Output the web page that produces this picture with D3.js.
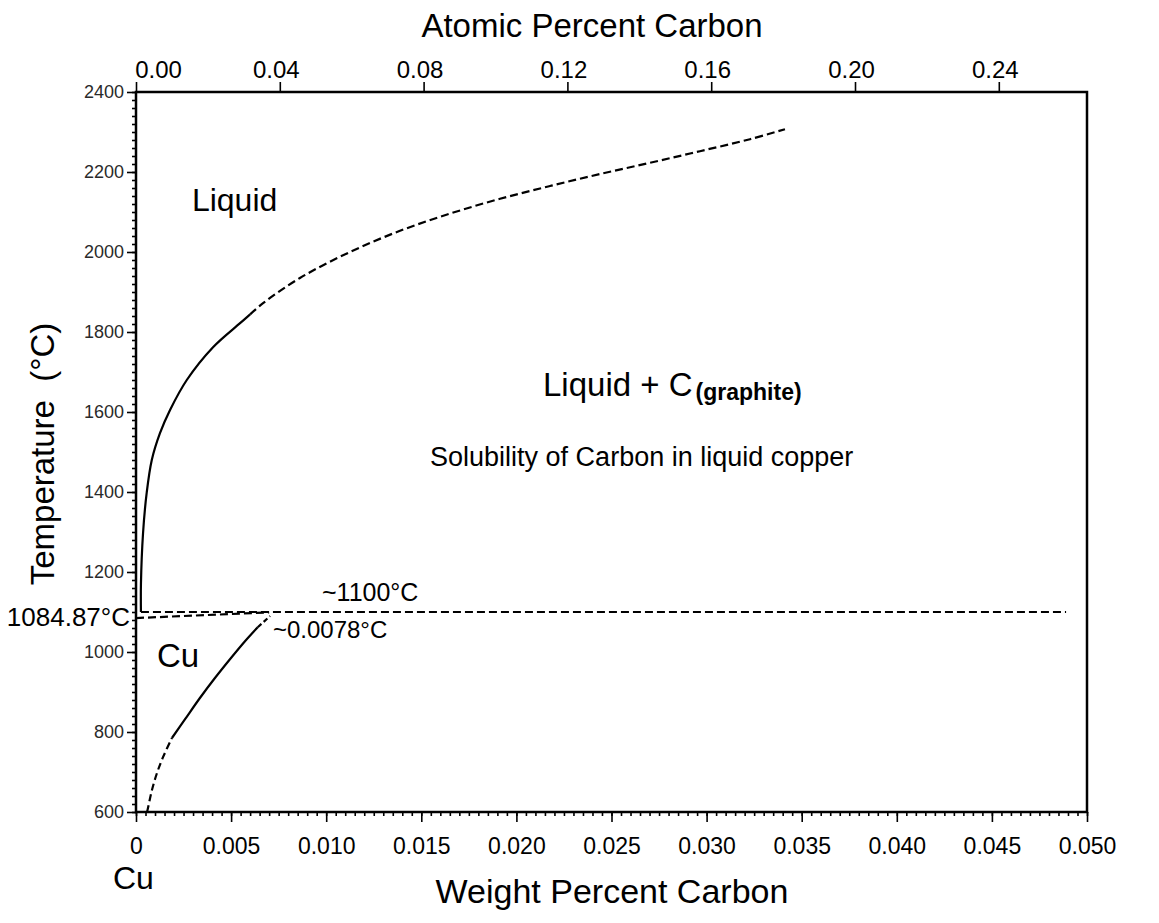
<!DOCTYPE html>
<html>
<head>
<meta charset="utf-8">
<script src="https://cdn.jsdelivr.net/npm/d3@7"></script>
<style>
  html, body { margin: 0; padding: 0; background: #fff; }
  svg { display: block; font-family: "Liberation Sans", Arial, sans-serif; }
</style>
</head>
<body>
<svg id="chart" width="1159" height="923"></svg>
<script>
// Cu–C phase diagram, copper-rich corner (weight % and atomic % carbon)

// Liquidus: solubility of carbon in liquid copper, [wt% C, °C]
const liquidusSolid = [
  [0.00026, 1100], [0.00026, 1170], [0.00037, 1297], [0.00056, 1397],
  [0.00083, 1480], [0.00126, 1547], [0.00179, 1605], [0.00267, 1680],
  [0.00405, 1762], [0.00547, 1822], [0.0060, 1844]
];
const liquidusDashed = [
  [0.0060, 1844], [0.00668, 1872], [0.00862, 1935], [0.01125, 2000],
  [0.01388, 2053], [0.01651, 2096], [0.01914, 2133], [0.02177, 2165],
  [0.0244, 2195], [0.02702, 2223], [0.02965, 2252], [0.03228, 2282],
  [0.03412, 2307]
];
// Solubility of carbon in solid Cu
const solvusLow = [
  [0.00058, 600], [0.00063, 610], [0.00084, 655], [0.0011, 697],
  [0.00142, 737], [0.00189, 785]
];
const solvusSolid = [
  [0.00189, 785], [0.00258, 832], [0.00336, 885], [0.00415, 935],
  [0.00494, 982], [0.00573, 1027], [0.0064, 1062]
];
const solvusHigh = [[0.0064, 1062], [0.00705, 1090]];
// Eutectic (~1100 °C) and the line from the melting point of Cu
const eutecticLine = [[0.00026, 1100], [0.0489, 1100]];
const meltingLine = [[0, 1084.87], [0.0070, 1099]];

// Axis ticks
const tempTicks = [600, 800, 1000, 1200, 1400, 1600, 1800, 2000, 2200, 2400];
const wtTicks = [0, 0.005, 0.010, 0.015, 0.020, 0.025, 0.030, 0.035, 0.040, 0.045, 0.050];
const wtTickLabels = ["0", "0.005", "0.010", "0.015", "0.020", "0.025", "0.030", "0.035", "0.040", "0.045", "0.050"];
const atTicks = [0, 0.04, 0.08, 0.12, 0.16, 0.20, 0.24];
const atTickLabels = ["0.00", "0.04", "0.08", "0.12", "0.16", "0.20", "0.24"];

// wt% -> at% conversion for the Cu–C system (M_Cu / M_C)
const atPerWt = 63.546 / 12.011;

const svg = d3.select("#chart");
const plotL = 136, plotR = 1087, plotT = 92, plotB = 812;

const x = d3.scaleLinear().domain([0, 0.05]).range([plotL, plotR]);
const xTop = d3.scaleLinear().domain([0, 0.05 * atPerWt]).range([plotL, plotR]);
const y = d3.scaleLinear().domain([600, 2400]).range([plotB, plotT]);

const line = d3.line().x(d => x(d[0])).y(d => y(d[1])).curve(d3.curveCatmullRom.alpha(0.5));
const FONT = "'Liberation Sans', Arial, sans-serif";

// Minor ticks
const g = svg.append("g");
g.append("g")
  .attr("transform", `translate(${plotL},0)`)
  .call(d3.axisLeft(y).tickValues(d3.range(600, 2401, 20)).tickSize(4).tickFormat(""))
  .call(a => a.select(".domain").remove());
g.append("g")
  .attr("transform", `translate(0,${plotB})`)
  .call(d3.axisBottom(x).tickValues(d3.range(0, 101).map(i => i * 0.0005)).tickSize(4).tickFormat(""))
  .call(a => a.select(".domain").remove());

// Major ticks
const yAxis = g.append("g")
  .attr("transform", `translate(${plotL},0)`)
  .call(d3.axisLeft(y).tickValues(tempTicks).tickSize(9).tickPadding(3).tickFormat(d3.format("d")))
  .call(a => a.select(".domain").remove());
yAxis.selectAll("text").attr("font-size", 18).attr("fill", "#2a2a2a").attr("font-family", FONT);

const xAxis = g.append("g")
  .attr("transform", `translate(0,${plotB})`)
  .call(d3.axisBottom(x).tickValues(wtTicks).tickSize(10).tickPadding(16)
    .tickFormat((d, i) => wtTickLabels[i]))
  .call(a => a.select(".domain").remove());
xAxis.selectAll("text").attr("font-size", 23).attr("fill", "#000").attr("font-family", FONT);

const topAxis = g.append("g")
  .attr("transform", `translate(0,${plotT})`)
  .call(d3.axisTop(xTop).tickValues(atTicks).tickSize(10).tickPadding(4)
    .tickFormat((d, i) => atTickLabels[i]))
  .call(a => a.select(".domain").remove());
topAxis.selectAll("text").attr("font-size", 24).attr("fill", "#000").attr("font-family", FONT)
  .attr("dx", (d, i) => i === 0 ? 22 : -4);

g.selectAll(".tick line").attr("stroke", "#000").attr("stroke-width", 1.6);

// Frame
svg.append("rect")
  .attr("x", plotL).attr("y", plotT)
  .attr("width", plotR - plotL).attr("height", plotB - plotT)
  .attr("fill", "none").attr("stroke", "#000").attr("stroke-width", 2.5);

// Phase boundaries
const curves = svg.append("g").attr("fill", "none").attr("stroke", "#000")
  .attr("stroke-width", 2.2);
curves.append("path").attr("d", line(liquidusSolid));
curves.append("path").attr("d", line(liquidusDashed)).attr("stroke-dasharray", "8,4");
curves.append("path").attr("d", line(solvusLow)).attr("stroke-dasharray", "7,4");
curves.append("path").attr("d", line(solvusSolid));
curves.append("path").attr("d", line(solvusHigh)).attr("stroke-dasharray", "5,3");
curves.append("path").attr("d", line(eutecticLine)).attr("stroke-dasharray", "8,4");
curves.append("path").attr("d", line(meltingLine)).attr("stroke-dasharray", "8,4");

// Text
const txt = (px, py, s, size, opts = {}) => {
  const t = svg.append("text").attr("x", px).attr("y", py)
    .attr("font-size", size).attr("fill", "#000").text(s);
  if (opts.anchor) t.attr("text-anchor", opts.anchor);
  return t;
};

txt(592, 37, "Atomic Percent Carbon", 33, { anchor: "middle" });
txt(612, 903, "Weight Percent Carbon", 34, { anchor: "middle" });
svg.append("text")
  .attr("transform", "translate(54,454) rotate(-90)")
  .attr("text-anchor", "middle").attr("font-size", 33).attr("fill", "#000")
  .attr("xml:space", "preserve")
  .text("Temperature  (°C)");

txt(x(0.00294), y(2102), "Liquid", 32);
const lc = txt(x(0.0214), y(1640), "Liquid + C", 33);
lc.append("tspan").attr("font-size", 23).attr("font-weight", "bold").attr("dx", 3).attr("dy", 4)
  .text("(graphite)");
txt(x(0.01546), y(1465), "Solubility of Carbon in liquid copper", 27);
txt(x(0.00978), y(1127), "~1100°C", 25);
txt(x(0.0072), y(1035), "~0.0078°C", 24);
txt(130, y(1084.87) + 8, "1084.87°C", 26, { anchor: "end" });
txt(x(0.0011), y(962), "Cu", 33);
txt(113, 889, "Cu", 32);
</script>
</body>
</html>
